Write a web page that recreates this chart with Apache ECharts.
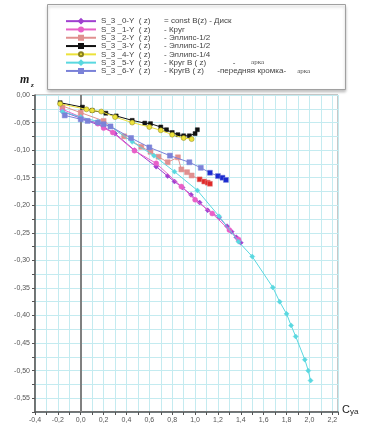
<!DOCTYPE html>
<html>
<head>
<meta charset="utf-8">
<script src="https://cdn.jsdelivr.net/npm/echarts@6/dist/echarts.min.js"></script>
<style>
  html, body { margin: 0; padding: 0; background: #fff; }
  #main { width: 365px; height: 429px; }
</style>
</head>
<body>
<div id="main"></div>
<script>
// подписи серий
const names = [
  'S_3_0-Y ( z) = const B(z) - Диск',
  'S_3_1-Y ( z) - Круг',
  'S_3_2-Y ( z) - Эллипс-1/2',
  'S_3_3-Y ( z) - Эллипс-1/2',
  'S_3_4-Y ( z) - Эллипс-1/4',
  'S_3_5-Y ( z) - Круг B ( z)            -       арка',
  'S_3_6-Y ( z) - КругB ( z)      -передняя кромка-     арка'
]

// [Cya, mz]
const s30 = [[-0.16, -0.030], [0.0, -0.042], [0.2, -0.058], [0.3, -0.070], [0.47, -0.100], [0.66, -0.130], [0.76, -0.147], [0.82, -0.157], [0.89, -0.168], [0.965, -0.181], [1.04, -0.195], [1.11, -0.209], [1.21, -0.222], [1.28, -0.238], [1.32, -0.248], [1.36, -0.258], [1.40, -0.268]]
const s31 = [[-0.16, -0.026], [0.0, -0.040], [0.15, -0.052], [0.2, -0.060], [0.28, -0.068], [0.47, -0.101], [0.66, -0.124], [0.88, -0.166], [1.0, -0.190], [1.15, -0.215], [1.3, -0.245], [1.38, -0.262]]
const s32 = [[-0.16, -0.020], [0.0, -0.032], [0.2, -0.047], [0.38, -0.075], [0.53, -0.094], [0.61, -0.103], [0.68, -0.112], [0.76, -0.122], [0.85, -0.113], [0.88, -0.135], [0.93, -0.140], [0.97, -0.146], [1.04, -0.153], [1.08, -0.157], [1.11, -0.159], [1.13, -0.161]]
const s33 = [[-0.18, -0.014], [0.015, -0.022], [0.1, -0.028], [0.22, -0.033], [0.31, -0.038], [0.45, -0.046], [0.56, -0.051], [0.61, -0.052], [0.7, -0.058], [0.75, -0.063], [0.8, -0.068], [0.85, -0.072], [0.9, -0.074], [0.95, -0.074], [1.0, -0.070], [1.02, -0.063]]
const s34 = [[-0.18, -0.016], [0.05, -0.026], [0.1, -0.028], [0.18, -0.030], [0.3, -0.040], [0.45, -0.050], [0.6, -0.058], [0.7, -0.064], [0.8, -0.072], [0.9, -0.078], [0.97, -0.080]]
const s35 = [[-0.16, -0.030], [0.0, -0.040], [0.15, -0.048], [0.26, -0.057], [0.45, -0.085], [0.64, -0.110], [0.82, -0.139], [1.02, -0.173], [1.21, -0.220], [1.38, -0.266], [1.5, -0.293], [1.68, -0.349], [1.74, -0.375], [1.80, -0.397], [1.84, -0.418], [1.88, -0.438], [1.96, -0.480], [1.99, -0.500], [2.01, -0.518]]
const s36 = [[-0.14, -0.037], [0.0, -0.044], [0.06, -0.047], [0.15, -0.050], [0.2, -0.053], [0.26, -0.057], [0.44, -0.078], [0.6, -0.095], [0.78, -0.110], [0.95, -0.122], [1.05, -0.132], [1.13, -0.141], [1.2, -0.147], [1.24, -0.150], [1.27, -0.154]]

const colors = ['#a040d0', '#e860c8', '#e09090', '#111111', '#ece23a', '#5ad8e0', '#7b82d8']
const symbols = ['diamond', 'circle', 'rect', 'rect', 'circle', 'diamond', 'rect']
const allData = [s30, s31, s32, s33, s34, s35, s36]

// последние точки выделены цветом
function tint (pts, n, color) {
  return pts.map((p, i) => i >= pts.length - n ? { value: p, itemStyle: { color: color } } : p)
}

const myEcharts = echarts.init(document.getElementById('main'))

const series = allData.map((d, i) => ({
  name: names[i],
  type: 'line',
  data: d,
  symbol: symbols[i],
  symbolSize: i === 3 ? 4 : 5,
  lineStyle: { color: colors[i], width: 1 },
  itemStyle: { color: colors[i], borderColor: i === 4 ? '#8a8020' : colors[i], borderWidth: 0.5 },
  z: 3 + i
}))
series[2].data = tint(s32, 4, '#e02828')
series[6].data = tint(s36, 4, '#1a2ad0')
series[5].markLine = {
  silent: true,
  symbol: 'none',
  label: { show: false },
  lineStyle: { color: '#808080', width: 2, type: 'solid' },
  data: [{ xAxis: 0 }]
}

const option = {
  animation: false,
  textStyle: { fontFamily: 'Liberation Sans' },
  grid: {
    left: 35, right: 27, top: 95, bottom: 17,
    show: true, borderColor: '#909090', borderWidth: 1
  },
  legend: {
    orient: 'vertical',
    left: 60,
    top: 12,
    itemWidth: 30,
    itemHeight: 5,
    itemGap: 0,
    textStyle: {
      fontSize: 8, color: '#444', lineHeight: 8.3,
      rich: {
        n: { width: 63, fontSize: 8, color: '#444' },
        d: { fontSize: 8, color: '#444' },
        a: { fontFamily: 'Liberation Serif', fontSize: 7, color: '#555' }
      }
    },
    formatter (name) {
      const i = name.indexOf(')')
      const head = name.slice(0, i + 1).replace(/_/g, ' _').replace('S _', 'S_').replace('(', ' (')
      const rest = name.slice(i + 1).trim().replace('арка', '{a|арка}')
      return '{n|' + head + '}{d|' + rest.replace(/\{a\|арка\}/, '}{a|арка}{d|') + '}'
    },
    data: names
  },
  xAxis: {
    type: 'value',
    min: -0.4,
    max: 2.25,
    interval: 0.1,
    axisLine: { onZero: false, lineStyle: { color: '#555', width: 1.5 } },
    axisTick: { show: true, length: 3, lineStyle: { color: '#555' } },
    axisLabel: {
      fontSize: 7, color: '#555', margin: 5,
      formatter (v) {
        return Math.abs(Math.round(v * 10)) % 2 === 0 ? v.toFixed(1).replace('.', ',') : ''
      }
    },
    splitLine: { lineStyle: { color: '#c4ebf0', width: 1 } }
  },
  yAxis: {
    type: 'value',
    min: -0.575,
    max: 0,
    interval: 0.025,
    axisLine: { onZero: false, lineStyle: { color: '#555', width: 1.5 } },
    axisTick: { show: true, length: 3, lineStyle: { color: '#555' } },
    axisLabel: {
      fontSize: 7, color: '#555', margin: 5,
      formatter (v) {
        return Math.abs(Math.round(v * 1000)) % 50 === 0 ? v.toFixed(2).replace('.', ',').replace('-0,00', '0,00') : ''
      }
    },
    splitLine: { lineStyle: { color: '#c4ebf0', width: 1 } }
  },
  graphic: [
    { // рамка легенды
      type: 'rect',
      left: 47, top: 4,
      shape: { width: 298, height: 85 },
      style: { fill: '#fff', stroke: '#a0a0a0', lineWidth: 1, shadowBlur: 3, shadowColor: 'rgba(0,0,0,0.25)', shadowOffsetY: 2 },
      z: 0
    },
    { type: 'text', left: 20, top: 74, style: { text: 'm', font: 'italic bold 12px "Liberation Serif"', fill: '#222' } },
    { type: 'text', left: 31, top: 82, style: { text: 'z', font: 'italic bold 7px "Liberation Serif"', fill: '#222' } },
    { type: 'text', left: 342, top: 404, style: { text: 'C', font: '11px "Liberation Sans"', fill: '#222' } },
    { type: 'text', left: 350, top: 408, style: { text: 'ya', font: '8px "Liberation Sans"', fill: '#222' } }
  ],
  series: series
}
myEcharts.setOption(option)
</script>
</body>
</html>
